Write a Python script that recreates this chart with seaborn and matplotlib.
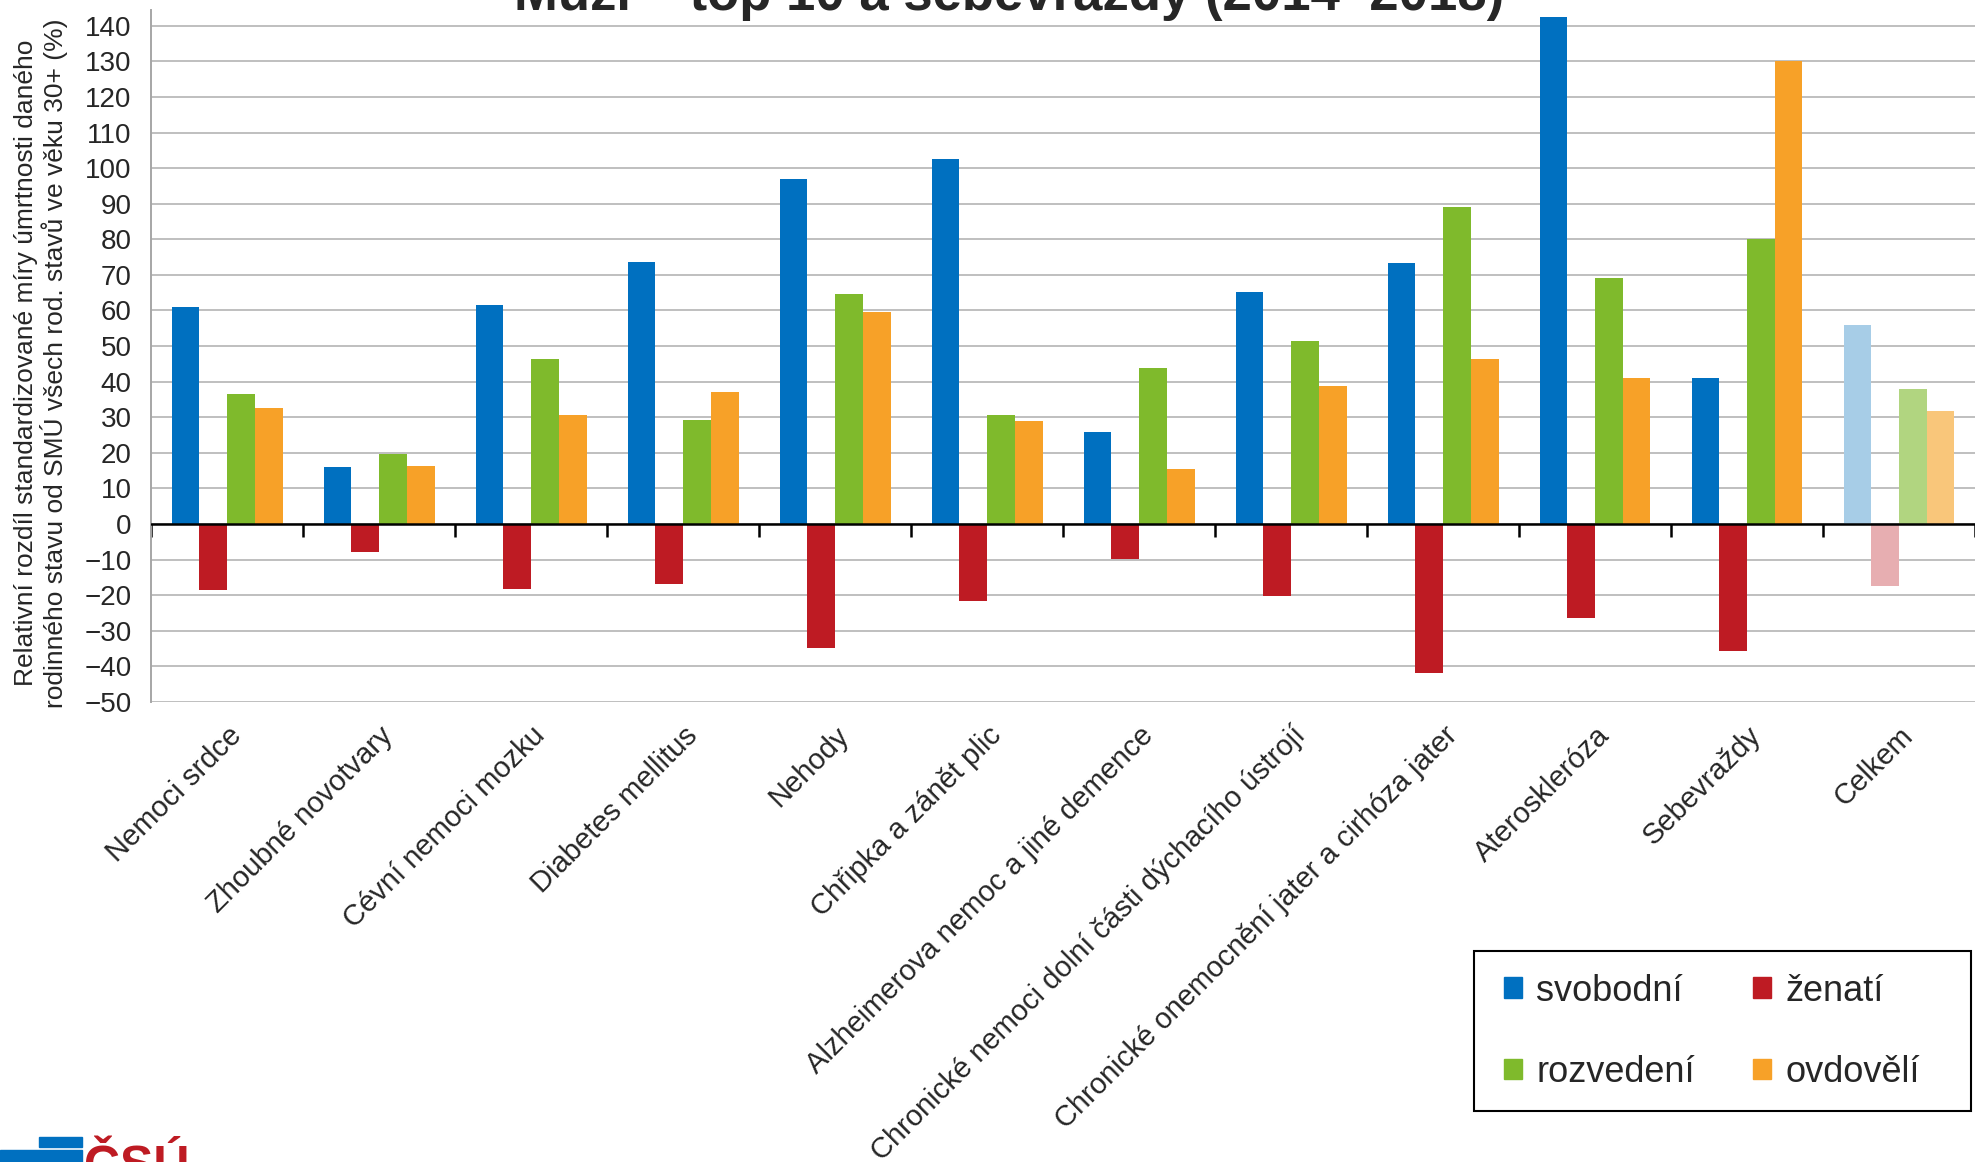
import matplotlib
matplotlib.use("Agg")
import matplotlib.pyplot as plt
import matplotlib.patches as mpatches
import pandas as pd
import seaborn as sns

# data
kategorie = ["Nemoci srdce", "Zhoubné novotvary", "Cévní nemoci mozku", "Diabetes mellitus",
             "Nehody", "Chřipka a zánět plic", "Alzheimerova nemoc a jiné demence",
             "Chronické nemoci dolní části dýchacího ústrojí",
             "Chronické onemocnění jater a cirhóza jater", "Ateroskleróza", "Sebevraždy", "Celkem"]
stavy = ["svobodní", "ženatí", "rozvedení", "ovdovělí"]
svobodni = [61.1, 15.9, 61.6, 73.6, 96.8, 102.6, 25.9, 65.1, 73.3, 142.6, 41.1, 55.9]
zenati = [-18.7, -7.9, -18.2, -16.9, -34.8, -21.6, -9.9, -20.3, -41.8, -26.4, -35.8, -17.5]
rozvedeni = [36.5, 19.7, 46.4, 29.3, 64.5, 30.6, 43.9, 51.4, 89.2, 69.0, 80.0, 37.9]
ovdoveli = [32.7, 16.3, 30.5, 37.2, 59.6, 28.9, 15.5, 38.7, 46.3, 41.1, 130.0, 31.6]

barvy = ["#0070C0", "#BE1B23", "#7FBA2C", "#F7A128"]
barvy_svetle = ["#A7CDE7", "#E7AEB1", "#B1D580", "#F9C67A"]

df = pd.DataFrame({
    "kategorie": kategorie * 4,
    "stav": [s for s in stavy for _ in kategorie],
    "hodnota": svobodni + zenati + rozvedeni + ovdoveli,
})

sns.set_style("white")
plt.rcParams["font.family"] = ["Liberation Sans", "DejaVu Sans"]

fig = plt.figure(figsize=(19.75, 11.62), dpi=100)
ax = fig.add_axes([0.0765, 0.396, 0.9235, 0.595])

sns.barplot(data=df, x="kategorie", y="hodnota", hue="stav", hue_order=stavy,
            palette=barvy, saturation=1, width=0.73, gap=0, errorbar=None,
            linewidth=0, ax=ax)

# "Celkem" group drawn in lighter tones
for cont, c in zip(ax.containers, barvy_svetle):
    cont.patches[-1].set_facecolor(c)

ymin, ymax = -50, 144.3
ax.set_ylim(ymin, ymax)
ax.set_xlim(-0.5, len(kategorie) - 0.5)
ax.set_yticks(range(-50, 141, 10))
ax.yaxis.grid(True, color="#BFBFBF", linewidth=1.4)
ax.set_axisbelow(True)
for s in ["top", "right", "bottom"]:
    ax.spines[s].set_visible(False)
ax.spines["left"].set_color("#A6A6A6")
ax.spines["left"].set_linewidth(1.4)
ax.tick_params(axis="y", direction="out", length=6, color="#A6A6A6", width=1.4,
               labelsize=20, pad=8)
ax.axhline(0, color="black", linewidth=1.8, zorder=4)

ax.set_xticks(range(len(kategorie)))
ax.set_xticklabels(kategorie, rotation=45, ha="right", rotation_mode="anchor", fontsize=21)
ax.tick_params(axis="x", length=0, pad=14)

# tick marks between groups on the zero line
sec = ax.secondary_xaxis((0 - ymin) / (ymax - ymin))
sec.set_xticks([i - 0.5 for i in range(len(kategorie) + 1)])
sec.set_xticklabels([])
sec.tick_params(direction="out", length=9, width=1.8, color="black")
for s in sec.spines.values():
    s.set_visible(False)

ax.set_xlabel("")
ax.set_ylabel("Relativní rozdíl standardizované míry úmrtnosti daného\n"
              "rodinného stavu od SMÚ všech rod. stavů ve věku 30+ (%)",
              fontsize=19, linespacing=1.1)
ax.yaxis.set_label_coords(-0.0455, 0.49)

fig.text(0.511, 0.9915, "Muži – top 10 a sebevraždy (2014–2018)", ha="center",
         va="baseline", fontsize=38, fontweight="bold")

# legend: frame drawn separately so the box can be wider than its entries
ax.get_legend().remove()
fig.add_artist(mpatches.Rectangle((0.7463, 0.0439), 0.2517, 0.1377, transform=fig.transFigure,
                                  fill=False, edgecolor="black", linewidth=1.5))
handles = [mpatches.Patch(color=c) for c in barvy]
order = [0, 2, 1, 3]
fig.legend([handles[i] for i in order], [stavy[i] for i in order], ncol=2,
           loc="center left", bbox_to_anchor=(0.7615, 0.1122), borderaxespad=0,
           borderpad=0, fontsize=26, handlelength=0.5, handleheight=0.5,
           handletextpad=0.4, labelspacing=1.28, columnspacing=1.6, frameon=False)

# ČSÚ logo, bottom left
fig.add_artist(mpatches.Rectangle((0.0198, 0.0129), 0.0217, 0.0086, transform=fig.transFigure,
                                  color="#0070C0"))
fig.add_artist(mpatches.Rectangle((0.0, 0.0), 0.0415, 0.0103, transform=fig.transFigure,
                                  color="#0070C0"))
fig.text(0.0425, -0.016, "ČSÚ", color="#BE1B23", fontsize=36, fontweight="bold",
         ha="left", va="baseline")

fig.savefig("out.png", dpi=100)
